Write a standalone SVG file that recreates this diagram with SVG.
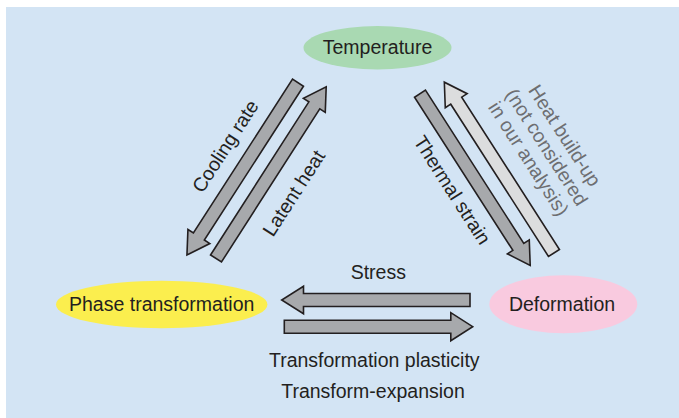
<svg xmlns="http://www.w3.org/2000/svg" width="679" height="418" viewBox="0 0 679 418">
<defs>
<style>
.lbl{font-family:"Liberation Sans",Arial,sans-serif;font-size:19.5px;fill:#231f20;text-anchor:middle}
.grey{fill:#6d6e71}
.arr{stroke:#231f20;stroke-width:1.6;stroke-linejoin:miter}
.dark{fill:#a7a9ac}
.light{fill:#dcddde}
</style>
</defs>
<rect x="6" y="7" width="673" height="411" fill="#d3e4f4"/>
<g id="connectors">
<g transform="translate(298,82.7) rotate(122.8)"><polygon class="arr dark" points="0,-6.5 183,-6.5 183,-13 205,0 183,13 183,6.5 0,6.5"/></g>
<g transform="translate(216,258.5) rotate(-57.3)"><polygon class="arr dark" points="0,-6.5 182,-6.5 182,-13 204,0 182,13 182,6.5 0,6.5"/></g>
<g transform="translate(420,93.7) rotate(57.3)"><polygon class="arr dark" points="0,-6.5 182,-6.5 182,-13 204,0 182,13 182,6.5 0,6.5"/></g>
<g transform="translate(554,253) rotate(-122.7)"><polygon class="arr light" points="0,-6.5 181,-6.5 181,-13 203,0 181,13 181,6.5 0,6.5"/></g>
<g transform="translate(470,300) rotate(180)"><polygon class="arr dark" points="0,-6.5 166.5,-6.5 166.5,-13.8 188.3,0 166.5,13.8 166.5,6.5 0,6.5"/></g>
<g transform="translate(284.3,326.7)"><polygon class="arr dark" points="0,-6.5 166.5,-6.5 166.5,-14 188.4,0 166.5,14 166.5,6.5 0,6.5"/></g>
<text class="lbl" transform="translate(225,146) rotate(-57.2)" y="7">Cooling rate</text>
<text class="lbl" transform="translate(293.5,193) rotate(-57.2)" y="7">Latent heat</text>
<text class="lbl" transform="translate(452.5,190) rotate(57.3)" y="7">Thermal strain</text>
<g transform="translate(547,147) rotate(57.3)">
<text class="lbl grey" y="-14.5">Heat build-up</text>
<text class="lbl grey" y="7">(not considered</text>
<text class="lbl grey" y="28.5">in our analysis)</text>
</g>
<text class="lbl" x="378.3" y="279">Stress</text>
<text class="lbl" x="374.3" y="367.3">Transformation plasticity</text>
<text class="lbl" x="373" y="398.3">Transform-expansion</text>
</g>
<g id="temperature">
<ellipse cx="377.5" cy="47.7" rx="74" ry="21.7" fill="#a9d9b2"/>
<text class="lbl" x="377.5" y="54.3">Temperature</text>
</g>
<g id="phase">
<ellipse cx="161.7" cy="304.5" rx="105.7" ry="23.8" fill="#fbee4e"/>
<text class="lbl" x="161.7" y="311">Phase transformation</text>
</g>
<g id="deformation">
<ellipse cx="563.3" cy="304.2" rx="74" ry="29" fill="#f9cadf"/>
<text class="lbl" x="562" y="311">Deformation</text>
</g>
</svg>
